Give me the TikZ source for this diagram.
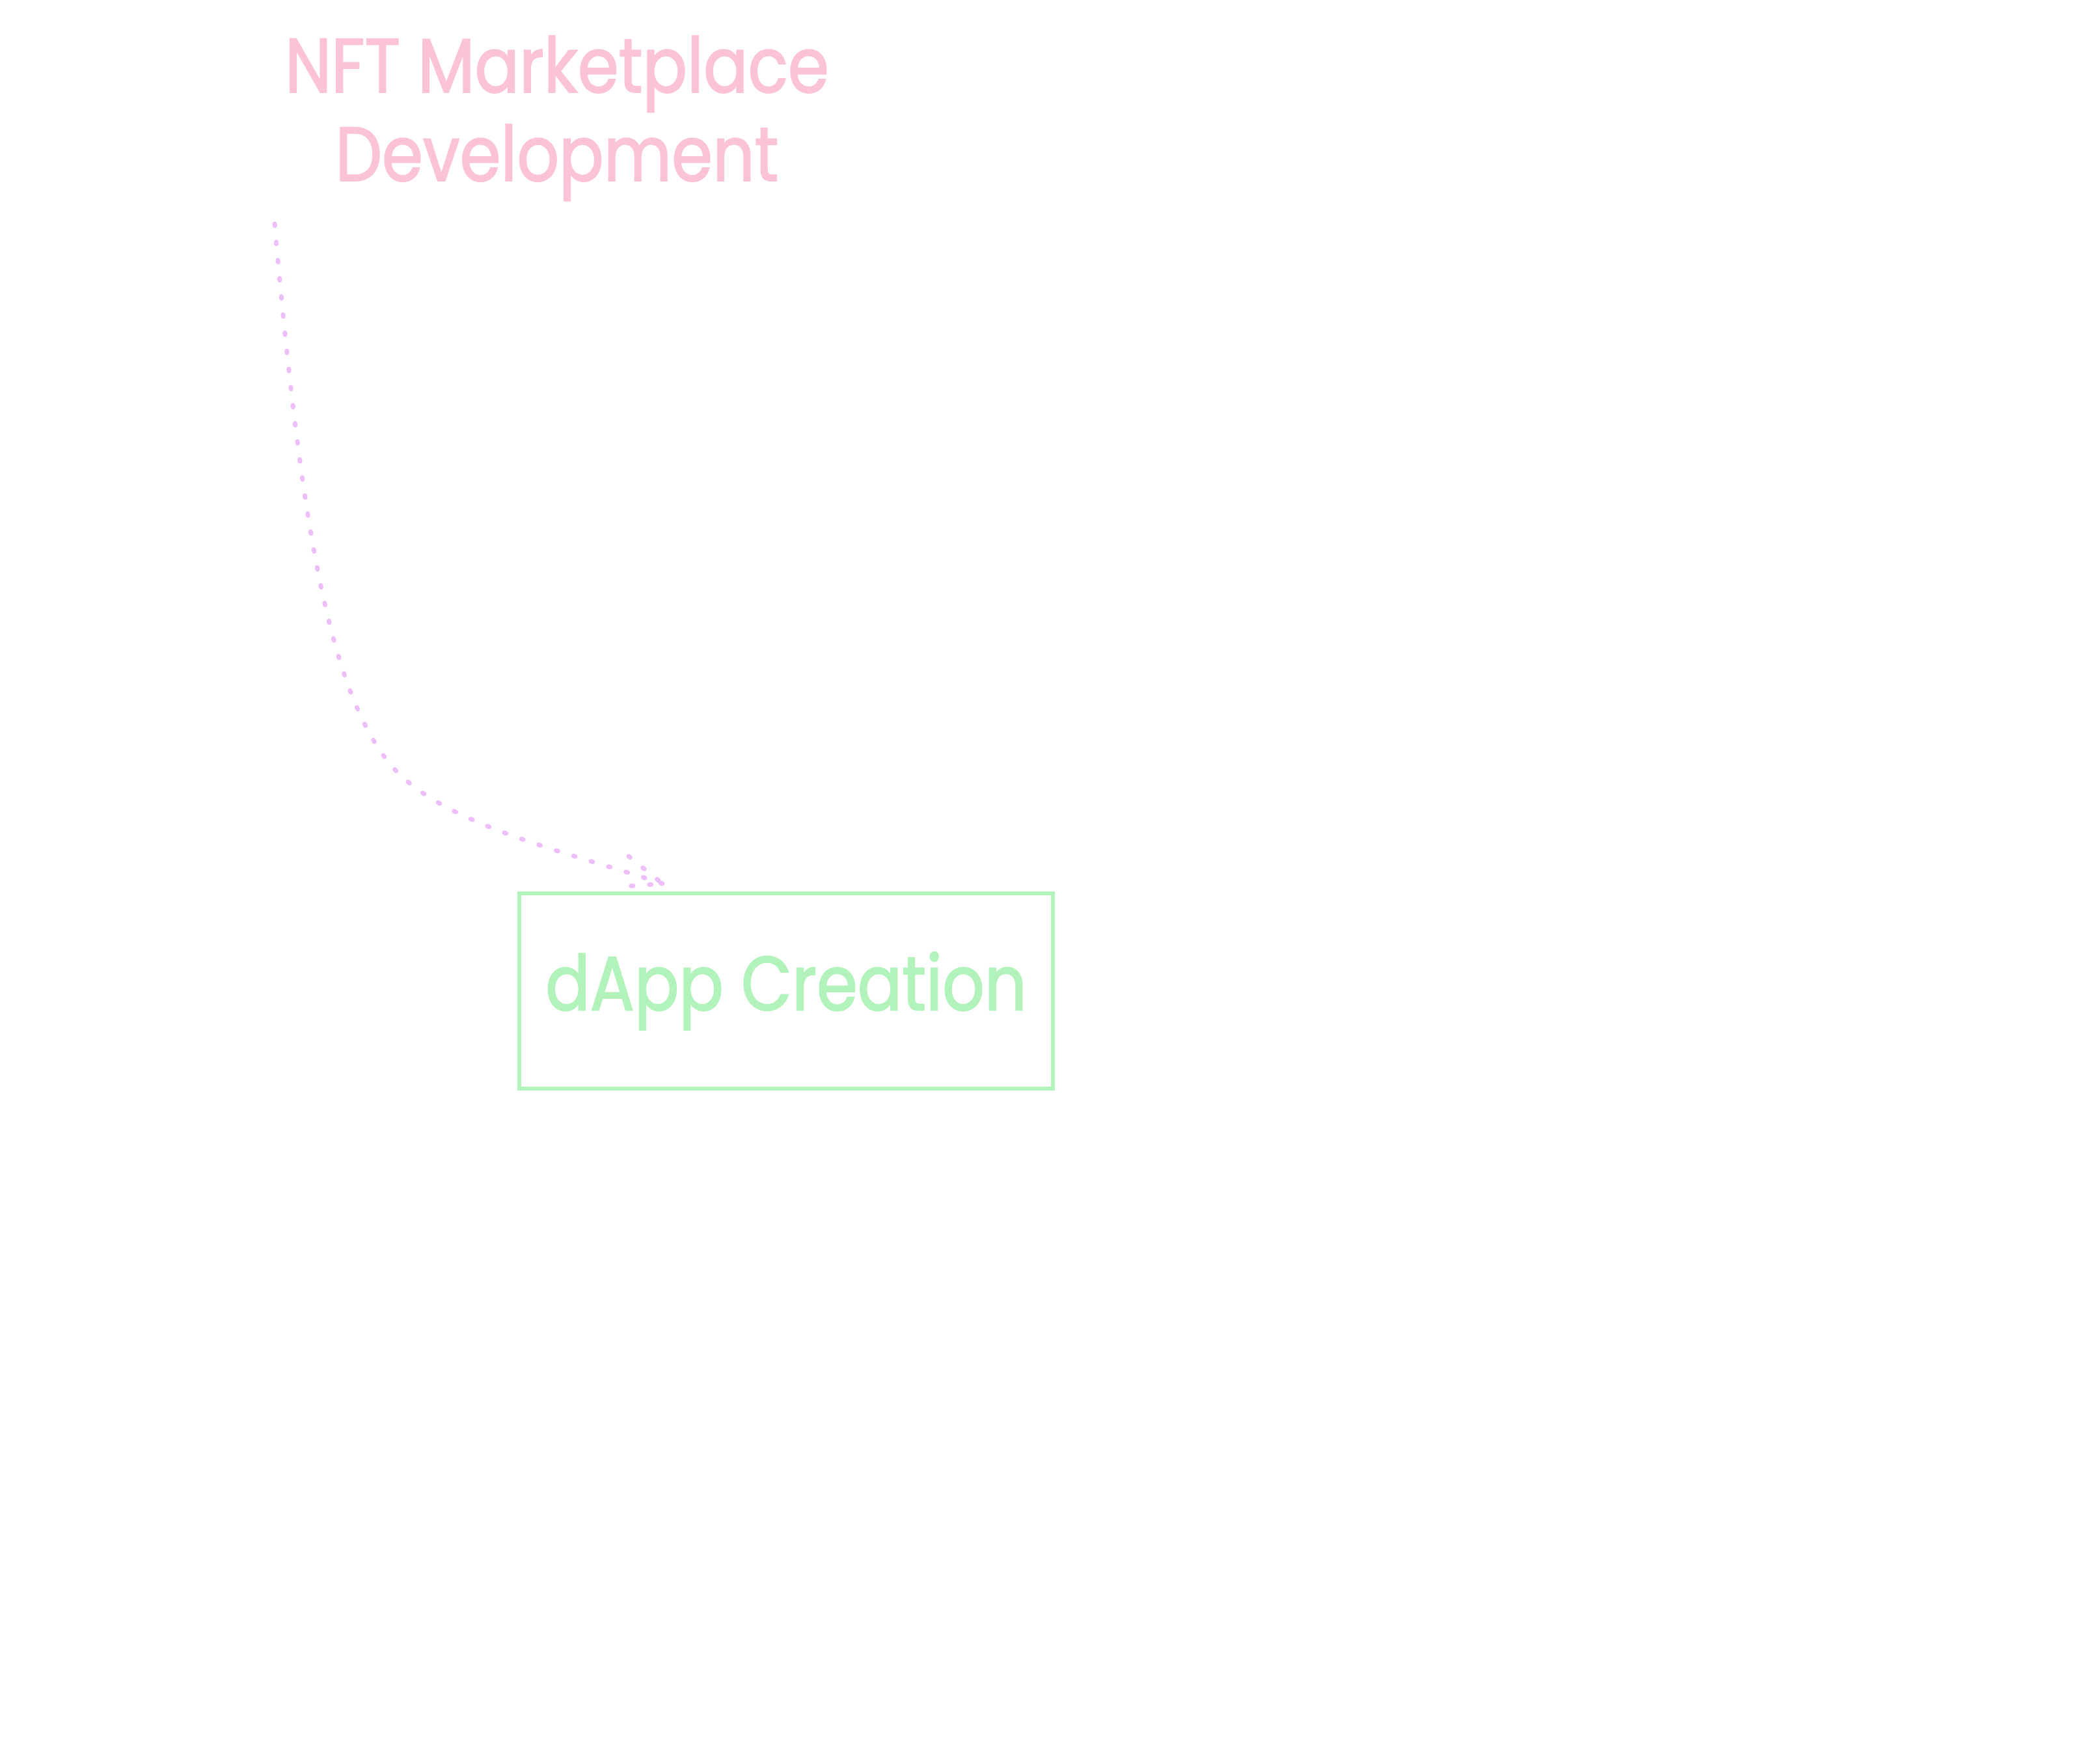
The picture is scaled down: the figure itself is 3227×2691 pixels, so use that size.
\documentclass[tikz,border=0pt]{standalone}
\usepackage{fontspec}
\setmainfont[FakeStretch=0.86,FakeBold=1.6]{Poppins}
\usetikzlibrary{positioning}
\definecolor{titlepink}{HTML}{FCC2D7}
\definecolor{boxgreen}{HTML}{B2F2BB}
\definecolor{arrowviolet}{HTML}{EEBEFA}
\tikzset{
	titletext/.style={text=titlepink, font=\fontsize{33.5}{38.7}\selectfont, align=center, inner sep=0pt},
	stagebox/.style={draw=boxgreen, line width=1.7pt, minimum width=8.2cm, minimum height=3cm,
		text=boxgreen, font=\fontsize{33.5}{38.7}\selectfont},
	dotline/.style={draw=arrowviolet, line width=2pt, line cap=round, dash pattern=on 0.03cm off 0.25cm},
}
\begin{document}
\begin{tikzpicture}[x=0.01cm,y=-0.01cm]
	\useasboundingbox (0,0) rectangle (3227,2691);

	\node[titletext, anchor=base] (nft) at (856,278) {NFT Marketplace\\Development};
	\node[stagebox] (dapp) at (1208,1523) {\raisebox{4pt}{dApp Creation}};

	\coordinate (arrowstart) at (422,344);
	\coordinate (arrowtip) at (1018,1358);
	\coordinate (barbup) at (966,1316);
	\coordinate (barblow) at (951,1363);

	\draw[dotline] (arrowstart) .. controls (462,800) and (505,1060) .. (600,1175)
		.. controls (676,1267) and (875,1310) .. (arrowtip);
	\draw[dotline] (barbup) -- (arrowtip) -- (barblow);

\end{tikzpicture}
\end{document}
